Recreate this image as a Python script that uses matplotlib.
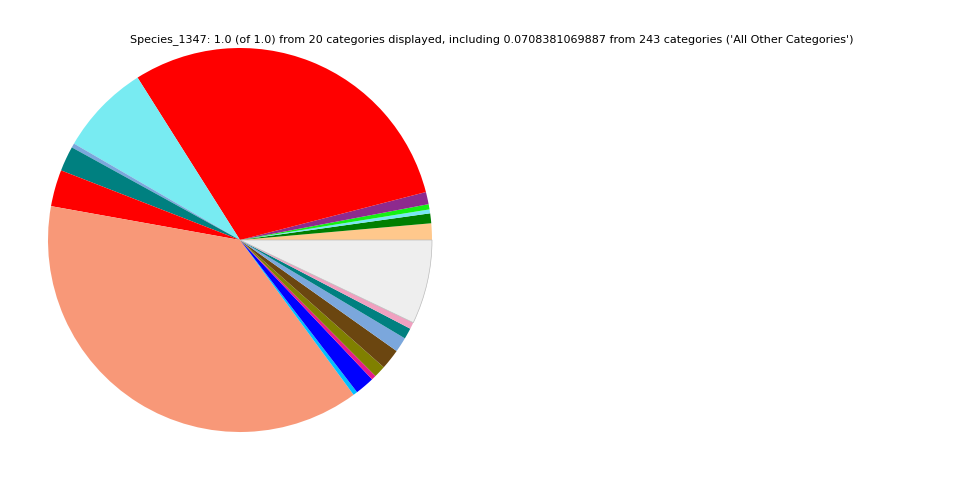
import numpy as np
import matplotlib
matplotlib.use("Agg")
import matplotlib.pyplot as plt

# fracciones (sentido antihorario desde 0 grados)
fracs = [0.0139, 0.0083, 0.0033, 0.0044, 0.0103, 0.2994, 0.0767, 0.0036,
         0.0211, 0.0308, 0.3790, 0.0036, 0.0164, 0.0039, 0.0100, 0.0172,
         0.0125, 0.0092, 0.0056, 0.0708381069887]
colores = ["#FFC88C", "#007F00", "#78E6F5", "#14F014", "#8E2A8E", "#FF0000",
           "#78EBF2", "#7BA7DC", "#008080", "#FF0000", "#F89878", "#00BFFF",
           "#0000FF", "#E6198C", "#808000", "#6B4610", "#7BA7DC", "#008080",
           "#F0A0C0", "#EEEEEE"]
titulo = ("Species_1347: 1.0 (of 1.0) from 20 categories displayed, including "
          "0.0708381069887 from 243 categories ('All Other Categories')")

fig = plt.figure(figsize=(9.6, 4.8), dpi=100)
ax = fig.add_axes([48/960, 48/480, 384/960, 384/480])
wedges, _ = ax.pie(fracs, colors=colores, startangle=0, counterclock=True,
                   radius=1.0, normalize=True)
wedges[-1].set_edgecolor("#bbbbbb")
wedges[-1].set_linewidth(0.5)
ax.set_xlim(-1, 1)
ax.set_ylim(-1, 1)
ax.set_aspect("equal")
ax.axis("off")

fig.text(492/960, 1 - 40/480, titulo, ha="center", va="center", fontsize=8)

fig.savefig("out.png", dpi=100)
